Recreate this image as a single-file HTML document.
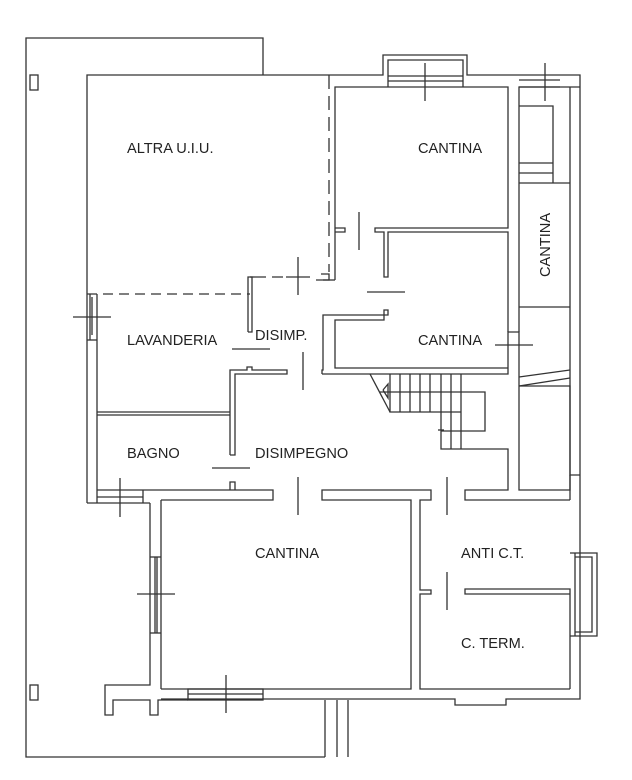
<!DOCTYPE html>
<html><head><meta charset="utf-8"><style>
html,body{margin:0;padding:0;background:#fff;}
svg{display:block}
text{font-family:"Liberation Sans",sans-serif;font-size:14.6px;fill:#222;}
</style></head><body>
<svg width="632" height="780" viewBox="0 0 632 780" xmlns="http://www.w3.org/2000/svg">
<g fill="none" stroke="#333" stroke-width="1.3">
<polyline points="263,75 263,38 26,38 26,757 325,757"/>
<rect x="30" y="75" width="8" height="15"/>
<rect x="30" y="685" width="8" height="15"/>
<line x1="325" y1="700" x2="325" y2="757"/>
<line x1="337" y1="700" x2="337" y2="757"/>
<line x1="348" y1="700" x2="348" y2="757"/>
<polyline points="87,503 87,75 383,75 383,55 467,55 467,75 580,75 580,699 506,699 506,705 455,705 455,699 161,699"/>
<polyline points="388,87 388,60 463,60 463,87"/>
<line x1="388" y1="76" x2="463" y2="76"/><line x1="388" y1="81" x2="463" y2="81"/>
<line x1="425" y1="63" x2="425" y2="101"/>
<line x1="87" y1="294" x2="250" y2="294" stroke-dasharray="10,6"/>
<line x1="329" y1="75" x2="329" y2="272" stroke-dasharray="14,7"/>
<polyline points="321,274 329,274 329,280 316,280"/>
<line x1="250" y1="277" x2="283" y2="277" stroke-dasharray="16,6"/>
<polyline points="248,332 248,277 252,277 252,332 248,332"/>
<line x1="298" y1="257" x2="298" y2="295"/><line x1="286" y1="277" x2="310" y2="277"/>
<line x1="97" y1="294" x2="97" y2="503"/>
<line x1="90" y1="294" x2="90" y2="340"/>
<line x1="87" y1="340" x2="97" y2="340"/>
<line x1="73" y1="317" x2="111" y2="317"/><line x1="92" y1="297" x2="92" y2="335"/>
<polyline points="97,412 230,412"/><polyline points="97,415 230,415"/>
<polyline points="230,455 230,370 247,370 247,367 252,367 252,370 287,370 287,374 235,374 235,455 230,455"/>
<line x1="232" y1="349" x2="270" y2="349"/>
<line x1="303" y1="352" x2="303" y2="390"/>
<line x1="212" y1="468" x2="250" y2="468"/>
<polyline points="230,490 230,482 235,482 235,490"/>
<polyline points="87,503 143,503 150,503"/>
<polyline points="97,490 273,490 273,500 161,500"/>
<line x1="97" y1="497" x2="143" y2="497"/><line x1="143" y1="490" x2="143" y2="503"/>
<line x1="120" y1="478" x2="120" y2="517"/>
<line x1="298" y1="477" x2="298" y2="515"/>
<polyline points="150,503 150,685 105,685 105,715 113,715 113,700 150,700 150,715 158,715 158,700 188,700"/>
<line x1="161" y1="500" x2="161" y2="689"/>
<polyline points="161,689 411,689 411,500 322,500 322,490 431,490 431,500 420,500 420,590 431,590 431,594 420,594 420,689 570,689"/>
<line x1="150" y1="557" x2="161" y2="557"/><line x1="150" y1="633" x2="161" y2="633"/>
<line x1="155" y1="557" x2="155" y2="633"/><line x1="157" y1="557" x2="157" y2="633"/>
<line x1="137" y1="594" x2="175" y2="594"/>
<rect x="188" y="689" width="75" height="11"/><line x1="188" y1="694" x2="263" y2="694"/>
<line x1="226" y1="675" x2="226" y2="713"/>
<polyline points="570,689 570,589 465,589 465,594 570,594"/>
<line x1="447" y1="572" x2="447" y2="610"/>
<line x1="447" y1="477" x2="447" y2="515"/>
<polyline points="570,500 465,500 465,490 508,490 508,449 441,449 441,374"/>
<line x1="570" y1="475" x2="570" y2="500"/>
<polyline points="570,553 597,553 597,636 570,636"/><polyline points="575,557 592,557 592,632 575,632"/>
<line x1="575" y1="553" x2="575" y2="636"/>
<polyline points="322,374 508,374 508,332 519,332 519,490 570,490 570,386 519,386"/>
<line x1="519" y1="377" x2="570" y2="370"/><line x1="519" y1="386" x2="570" y2="378"/>
<polyline points="580,475 570,475 570,378"/>
<line x1="370" y1="374" x2="390" y2="412"/>
<polyline points="390,374 390,412 461,412"/>
<line x1="400" y1="374" x2="400" y2="412"/><line x1="410" y1="374" x2="410" y2="412"/>
<line x1="420" y1="374" x2="420" y2="412"/><line x1="430" y1="374" x2="430" y2="412"/>
<line x1="451" y1="374" x2="451" y2="449"/><line x1="461" y1="374" x2="461" y2="449"/>
<polyline points="380,392 485,392 485,431 441,431"/>
<polyline points="383,390 388,384 388,398 383,390"/>
<line x1="438" y1="430" x2="444" y2="430"/>
<polyline points="335,280 335,87 508,87 508,228 375,228 375,232 384,232 384,277 388,277 388,232 508,232 508,332"/>
<polyline points="519,332 519,87 580,87"/>
<polyline points="323,280 335,280"/>
<polyline points="335,228 345,228 345,232 335,232"/>
<line x1="359" y1="212" x2="359" y2="250"/>
<line x1="367" y1="292" x2="405" y2="292"/>
<polyline points="322,374 322,370 323,370 323,315 388,315 388,310 384,310 384,320 335,320 335,368 508,368"/>
<line x1="495" y1="345" x2="533" y2="345"/>
<line x1="570" y1="87" x2="570" y2="378"/>
<line x1="519" y1="80" x2="560" y2="80"/><line x1="519" y1="87" x2="560" y2="87"/>
<line x1="545" y1="63" x2="545" y2="101"/>
<polyline points="519,106 553,106 553,183"/>
<line x1="519" y1="163" x2="553" y2="163"/><line x1="519" y1="173" x2="553" y2="173"/>
<line x1="519" y1="183" x2="570" y2="183"/>
<line x1="519" y1="307" x2="570" y2="307"/>
</g>
<text x="127" y="153">ALTRA U.I.U.</text>
<text x="418" y="153">CANTINA</text>
<text x="127" y="345">LAVANDERIA</text>
<text x="255" y="340">DISIMP.</text>
<text x="418" y="345">CANTINA</text>
<text x="127" y="458">BAGNO</text>
<text x="255" y="458">DISIMPEGNO</text>
<text x="255" y="558">CANTINA</text>
<text x="461" y="558">ANTI C.T.</text>
<text x="461" y="648">C. TERM.</text>
<text transform="translate(550,277) rotate(-90)">CANTINA</text>
</svg>
</body></html>
